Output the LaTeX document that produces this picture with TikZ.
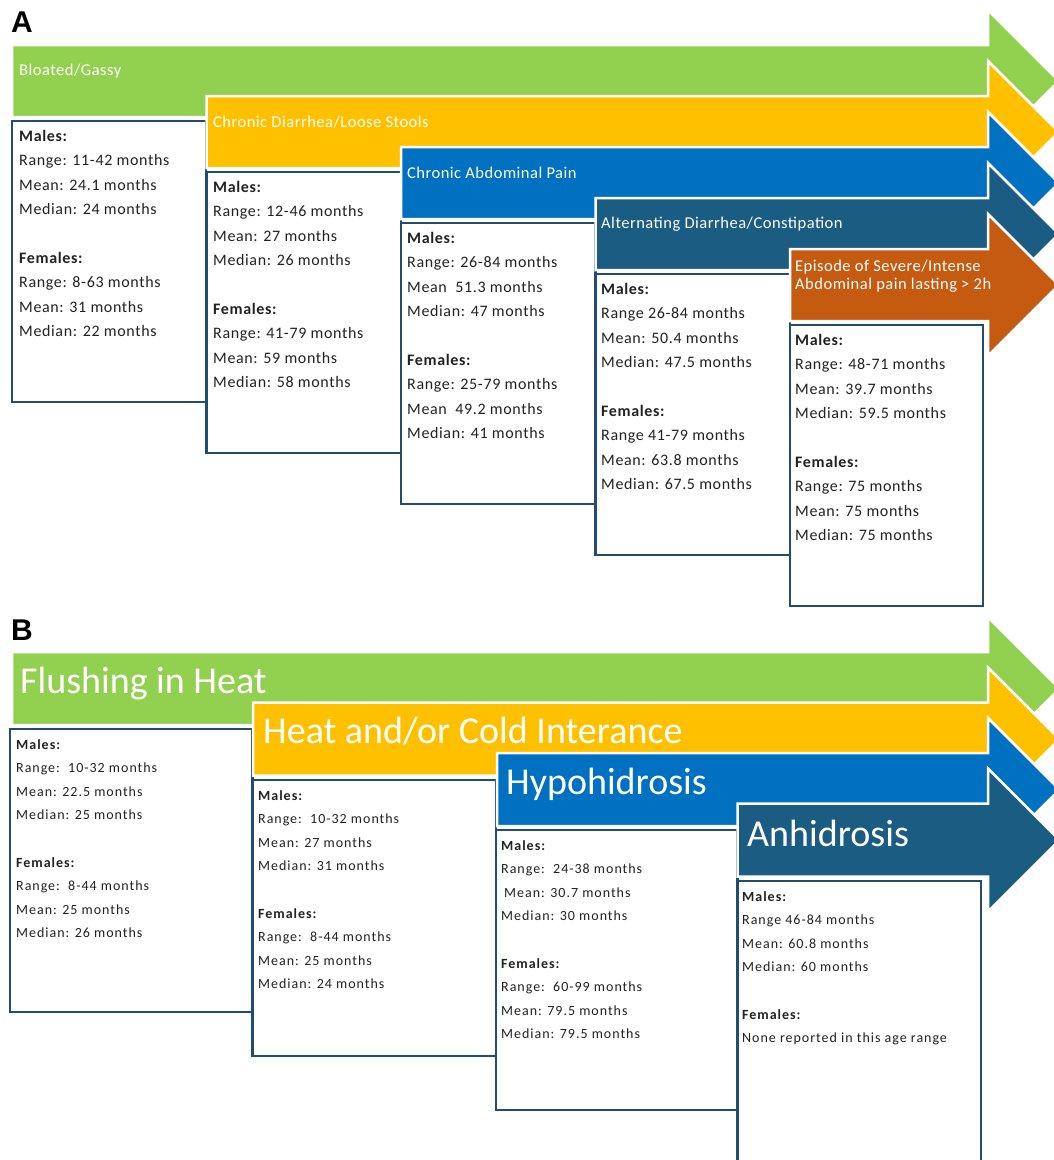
\documentclass[tikz,border=0pt]{standalone}
\usepackage{fontspec}
\setmainfont{Carlito}
\newfontfamily\labfont{Liberation Sans}
\newfontfamily\boxfontA[LetterSpace=4]{Carlito}
\newfontfamily\boxfontB[LetterSpace=7]{Carlito}
\newfontfamily\arrfontA[LetterSpace=3]{Carlito}
\definecolor{cgreen}{HTML}{92D050}
\definecolor{cyellow}{HTML}{FFC000}
\definecolor{cblue}{HTML}{0070C0}
\definecolor{cteal}{HTML}{1B5C82}
\definecolor{corange}{HTML}{C55A11}
\definecolor{cborder}{HTML}{1F4E6E}
\definecolor{ctext}{HTML}{222222}
\newcommand{\symarrow}[4]{%
  \fill[#4, draw=white, line width=2.5pt, line join=miter]
    (#1,#2) -- (988,#2) -- (988,{#2-35}) -- ({988+#3/2+35},{#2+#3/2})
    -- (988,{#2+#3+35}) -- (988,{#2+#3}) -- (#1,{#2+#3}) -- cycle;}
\tikzset{
  databox/.style={draw=cborder, fill=white, line width=2.5pt},
  txtA/.style={anchor=north west, inner sep=0pt, align=left, text=ctext,
    font=\boxfontA\fontsize{16}{24.4}\selectfont},
  txtB/.style={anchor=north west, inner sep=0pt, align=left, text=ctext,
    font=\boxfontB\fontsize{14}{23.6}\selectfont},
  lblA/.style={anchor=west, inner sep=0pt, text=white, align=left,
    font=\arrfontA\fontsize{16.5}{18}\selectfont},
  lblB/.style={anchor=base west, inner sep=0pt, text=white,
    font=\fontsize{38}{40}\selectfont},
  panel/.style={anchor=north west, inner sep=0pt,
    font=\labfont\bfseries\fontsize{30}{32}\selectfont}
}
\begin{document}
\begin{tikzpicture}[x=1pt,y=-1pt]
\useasboundingbox (0,0) rectangle (1054,1160);
\clip (0,0) rectangle (1054,1160);
\fill[white] (0,0) rectangle (1054,1160);
% ---------------- Panel A ----------------
\node[panel] (pA) at (11,12) {A};
% boxes
\draw[databox] (12,121) rectangle (206,402);
\draw[databox] (206.5,172) rectangle (401,453);
\draw[databox] (401,223) rectangle (595.5,504);
\draw[databox] (595.5,274) rectangle (790,555);
\draw[databox] (790,325) rectangle (983,606);
% arrows
\symarrow{12}{45}{72}{cgreen}
\symarrow{206.5}{96}{72}{cyellow}
\symarrow{401}{147}{72}{cblue}
\symarrow{595.5}{198}{72}{cteal}
\symarrow{790}{249}{72}{corange}
% arrow labels
\node[lblA] (la1) at (19,71) {Bloated/Gassy};
\node[lblA] (la2) at (213,122) {Chronic Diarrhea/Loose Stools};
\node[lblA] (la3) at (407,173) {Chronic Abdominal Pain};
\node[lblA] (la4) at (601,224) {Alternating Diarrhea/Constipation};
\node[lblA] (la5) at (795,276) {Episode of Severe/Intense\\Abdominal pain lasting > 2h};
% box texts
\node[txtA] (ta1) at (19,130) {\textbf{Males:}\\Range: 11-42 months\\Mean: 24.1 months\\Median: 24 months\\[24.4pt]\textbf{Females:}\\Range: 8-63 months\\Mean: 31 months\\Median: 22 months};
\node[txtA] (ta2) at (213,181) {\textbf{Males:}\\Range: 12-46 months\\Mean: 27 months\\Median: 26 months\\[24.4pt]\textbf{Females:}\\Range: 41-79 months\\Mean: 59 months\\Median: 58 months};
\node[txtA] (ta3) at (407,232) {\textbf{Males:}\\Range: 26-84 months\\Mean\ \ 51.3 months\\Median: 47 months\\[24.4pt]\textbf{Females:}\\Range: 25-79 months\\Mean\ \ 49.2 months\\Median: 41 months};
\node[txtA] (ta4) at (601,283) {\textbf{Males:}\\Range 26-84 months\\Mean: 50.4 months\\Median: 47.5 months\\[24.4pt]\textbf{Females:}\\Range 41-79 months\\Mean: 63.8 months\\Median: 67.5 months};
\node[txtA] (ta5) at (795,334) {\textbf{Males:}\\Range: 48-71 months\\Mean: 39.7 months\\Median: 59.5 months\\[24.4pt]\textbf{Females:}\\Range: 75 months\\Mean: 75 months\\Median: 75 months};
% ---------------- Panel B ----------------
\node[panel] (pB) at (11,620) {B};
\draw[databox] (10,729) rectangle (252.5,1012);
\draw[databox] (252.5,780) rectangle (496,1056);
\draw[databox] (496,830) rectangle (737.5,1110);
\draw[databox] (737.5,881) rectangle (981,1175);
\symarrow{12}{652}{73}{cgreen}
\symarrow{253}{702.5}{73}{cyellow}
\symarrow{497}{753}{73}{cblue}
\symarrow{737.5}{803.5}{73}{cteal}
\node[lblB] (lb1) at (20,693) {Flushing in Heat};
\node[lblB] (lb2) at (263,743) {Heat and/or Cold Interance};
\node[lblB] (lb3) at (506,794) {Hypohidrosis};
\node[lblB] (lb4) at (747,846) {Anhidrosis};
\node[txtB] (tb1) at (16,739) {\textbf{Males:}\\Range:\ \ 10-32 months\\Mean: 22.5 months\\Median: 25 months\\[23.6pt]\textbf{Females:}\\Range:\ \ 8-44 months\\Mean: 25 months\\Median: 26 months};
\node[txtB] (tb2) at (258,790) {\textbf{Males:}\\Range:\ \ 10-32 months\\Mean: 27 months\\Median: 31 months\\[23.6pt]\textbf{Females:}\\Range:\ \ 8-44 months\\Mean: 25 months\\Median: 24 months};
\node[txtB] (tb3) at (501,840) {\textbf{Males:}\\Range:\ \ 24-38 months\\\hspace{3pt}Mean: 30.7 months\\Median: 30 months\\[23.6pt]\textbf{Females:}\\Range:\ \ 60-99 months\\Mean: 79.5 months\\Median: 79.5 months};
\node[txtB] (tb4) at (742,891) {\textbf{Males:}\\Range 46-84 months\\Mean: 60.8 months\\Median: 60 months\\[23.6pt]\textbf{Females:}\\None reported in this age range};
\end{tikzpicture}
\end{document}
